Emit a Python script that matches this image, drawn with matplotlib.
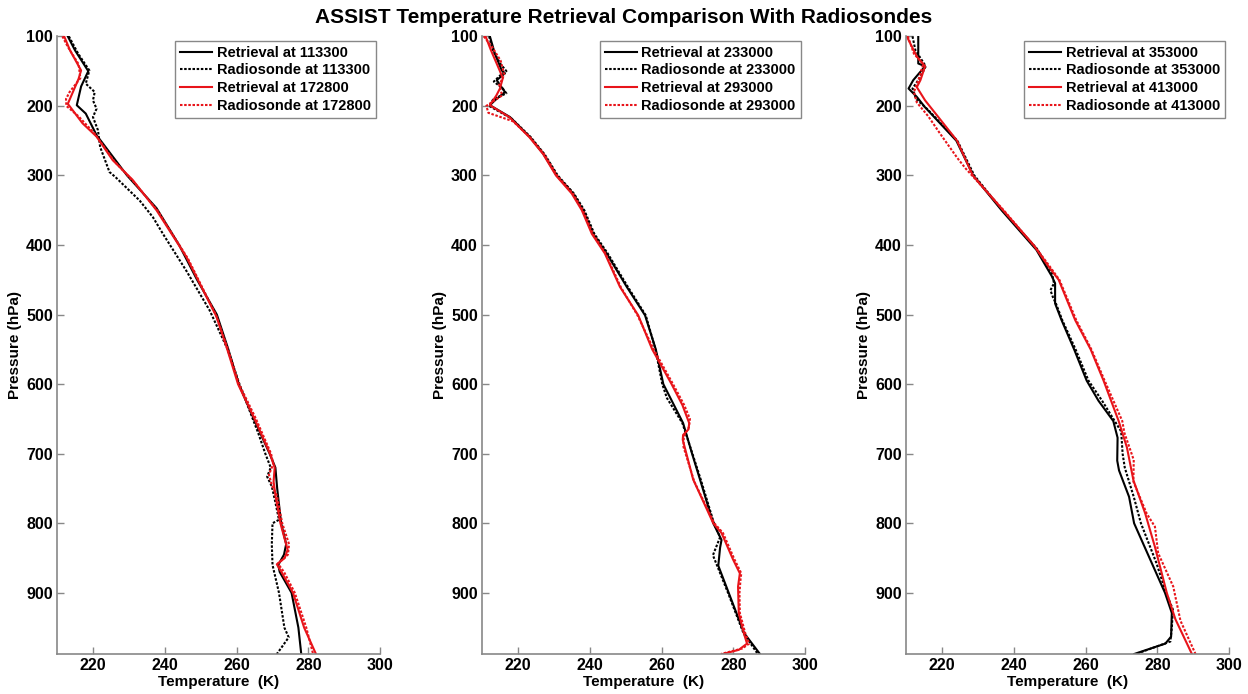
import matplotlib
matplotlib.use('Agg')
import matplotlib.pyplot as plt

plt.rcParams['font.family'] = ['Liberation Sans', 'DejaVu Sans']
plt.rcParams['font.weight'] = 'bold'

# Panel 1: retrieval / radiosonde at 113300 (black) and 172800 (red)
p1_ret_a = [100, 120, 150, 172, 199, 211, 242, 300, 347, 400, 450, 500, 550, 600, 650, 700, 720, 750, 800, 830, 845, 860, 870, 900, 950, 988]
t1_ret_a = [213, 215, 218.7, 216.7, 215.5, 218, 221, 229.5, 237.7, 244, 249, 254.5, 257.7, 260.6, 264.8, 269.2, 270.8, 271.3, 272.4, 273.8, 273.2, 271.6, 272, 275.3, 277.2, 278]
p1_son_a = [100, 125, 149, 168, 180, 192, 204, 216, 235, 259, 295, 302, 336, 360, 384, 437, 494, 550, 600, 650, 670, 700, 720, 733, 747, 770, 795, 800, 830, 860, 900, 950, 964, 975, 988]
t1_son_a = [213.3, 215.9, 219, 218, 220.5, 220, 221, 220, 221.4, 222, 224.6, 226.2, 233, 236.7, 239.5, 246, 252.5, 257.5, 260.8, 264.5, 266, 268, 269.5, 268.5, 269.8, 270.8, 271.8, 270, 269.8, 270, 271.8, 273.3, 274.5, 273, 271.2]
p1_ret_b = [100, 120, 149, 161, 185, 197, 201, 225, 244, 278, 306, 350, 417, 503, 550, 600, 650, 700, 720, 740, 760, 800, 838, 850, 859, 870, 900, 950, 988]
t1_ret_b = [212, 213.6, 216.7, 216, 214, 213, 213.6, 217.1, 221, 225.5, 231, 237.7, 246, 254.4, 257.4, 260.4, 265, 269.3, 270.6, 270.3, 270.8, 272.2, 274.2, 273.4, 271.2, 272.5, 275.7, 278.8, 282.1]
p1_son_b = [100, 115, 140, 160, 180, 190, 200, 215, 240, 280, 310, 352, 420, 500, 550, 600, 650, 700, 715, 730, 745, 760, 800, 830, 845, 858, 870, 900, 950, 988]
t1_son_b = [211.5, 213, 216, 216.5, 213.5, 212.5, 212.6, 216, 220.5, 226, 231.5, 238.2, 246.5, 254.2, 257.6, 260.7, 265.4, 269.6, 270.2, 269, 269.8, 271.2, 272.7, 274.6, 274.3, 271.5, 273.2, 276.2, 279.4, 281.3]

# Panel 2: 233000 (black) and 293000 (red)
p2_ret_a = [100, 125, 149, 153, 163, 180, 192, 199, 216, 245, 269, 300, 326, 350, 384, 412, 460, 501, 550, 600, 656, 700, 737, 800, 824, 835, 861, 900, 958, 988]
t2_ret_a = [212.2, 213.6, 215.5, 216.4, 214.1, 216.4, 213.6, 212.2, 217.8, 223.4, 227.1, 230.8, 235.4, 238.2, 241, 244.7, 250.3, 255.4, 258.4, 260.5, 266, 268.5, 270.7, 274.4, 276.7, 276.3, 275.8, 278.7, 283, 287.4]
p2_son_a = [100, 120, 140, 150, 155, 165, 175, 182, 190, 200, 218, 245, 270, 300, 326, 350, 384, 412, 460, 501, 550, 600, 620, 656, 700, 737, 800, 820, 846, 860, 900, 958, 988]
t2_son_a = [212, 213, 215.2, 216.8, 215.3, 213.3, 215.8, 216.8, 213.2, 212, 218.2, 223.6, 227.5, 231.1, 235.6, 238.5, 241.3, 245, 250.6, 255.6, 258.3, 260.2, 261.5, 265.8, 268.6, 270.9, 274.6, 276.3, 274.3, 275.4, 278.5, 282.8, 286.8]
p2_ret_b = [100, 120, 150, 160, 175, 185, 199, 216, 245, 269, 300, 326, 350, 384, 412, 460, 501, 550, 600, 630, 656, 665, 673, 680, 737, 800, 814, 852, 872, 891, 929, 958, 973, 982, 988]
t2_ret_b = [211, 212.5, 215, 215.8, 215, 214, 212.2, 217.6, 223.2, 227, 230.6, 235, 237.8, 240.6, 244.2, 248.4, 253.5, 257.4, 262.8, 265.8, 267.7, 267.5, 266, 265.9, 268.8, 274.4, 276.7, 279.9, 281.8, 281.3, 281.5, 282.9, 283.8, 281.5, 277]
p2_son_b = [100, 115, 135, 155, 170, 185, 200, 210, 222, 245, 270, 300, 326, 350, 384, 412, 460, 501, 550, 600, 630, 650, 662, 675, 690, 740, 800, 814, 852, 872, 880, 900, 929, 958, 973, 980, 988]
t2_son_b = [210.5, 212.8, 215.2, 216.2, 214.8, 215.6, 211.2, 211.8, 218.6, 223.4, 227.4, 230.9, 235.3, 238.1, 240.9, 244.4, 248.6, 253.3, 257.8, 263.2, 266.3, 267.9, 267.6, 266.2, 266.1, 269.1, 274.7, 277.1, 280.3, 282.2, 282, 281.7, 281.8, 283.3, 284.4, 282.5, 276.5]

# Panel 3: 353000 (black) and 413000 (red)
p3_ret_a = [100, 139, 143, 163, 175, 187, 202, 250, 300, 350, 407, 445, 455, 484, 508, 550, 595, 624, 653, 677, 710, 724, 762, 800, 857, 900, 929, 963, 973, 988]
t3_ret_a = [213.4, 213.4, 215.3, 212, 210.7, 213, 215.3, 224, 228.7, 236.6, 246.3, 250.6, 251.5, 251.5, 253.3, 256.8, 260.3, 263.6, 267.7, 268.9, 268.8, 269.3, 272.1, 273.5, 278.4, 282.1, 284, 283.8, 282.2, 273.5]
p3_son_a = [100, 120, 143, 160, 175, 190, 205, 250, 300, 350, 405, 440, 455, 465, 475, 485, 508, 550, 595, 624, 668, 700, 720, 762, 800, 857, 900, 924, 950, 970, 988]
t3_son_a = [211.8, 212.6, 215.5, 213.8, 211.8, 212.8, 216, 224.3, 229, 236.8, 246.4, 250.6, 251.2, 250.2, 250.9, 251.8, 253.5, 257.2, 260.8, 264.6, 269.9, 270.3, 270.9, 273.4, 275.4, 279.7, 282.4, 284.3, 284, 283.6, 274]
p3_ret_b = [100, 129, 143, 163, 173, 192, 220, 250, 300, 350, 400, 431, 450, 508, 550, 595, 653, 691, 738, 786, 834, 900, 938, 988]
t3_ret_b = [210.2, 213, 215.3, 214, 213, 215.3, 219.6, 224.2, 228.6, 237, 245.5, 249.7, 252.5, 257.1, 261.4, 265, 269.2, 271.5, 273.3, 276.6, 279.3, 282.6, 285, 289.6]
p3_son_b = [100, 125, 140, 160, 180, 195, 215, 240, 275, 290, 350, 405, 430, 450, 508, 550, 595, 653, 670, 709, 740, 786, 805, 843, 891, 940, 988]
t3_son_b = [210.5, 212.2, 214.8, 213.6, 212.2, 213, 216.2, 219.5, 224.3, 226.6, 237.2, 246.3, 249.9, 252.7, 257.4, 261.6, 265.3, 270.2, 270.8, 273.4, 273.3, 277, 279.3, 280.2, 284.4, 286.4, 290.6]

times = [('113300', '172800'), ('233000', '293000'), ('353000', '413000')]
panels = [
    (p1_ret_a, t1_ret_a, p1_son_a, t1_son_a, p1_ret_b, t1_ret_b, p1_son_b, t1_son_b),
    (p2_ret_a, t2_ret_a, p2_son_a, t2_son_a, p2_ret_b, t2_ret_b, p2_son_b, t2_son_b),
    (p3_ret_a, t3_ret_a, p3_son_a, t3_son_a, p3_ret_b, t3_ret_b, p3_son_b, t3_son_b),
]
xticks = [220, 240, 260, 280, 300]
yticks = [100, 200, 300, 400, 500, 600, 700, 800, 900]

fig = plt.figure(figsize=(12.48, 6.94), dpi=100)
lefts = [0.0457, 0.3862, 0.7260]
dot = (0, (1.2, 0.8))
red = '#e8141a'

for left, data, (ta, tb) in zip(lefts, panels, times):
    ax = fig.add_axes([left, 0.0576, 0.259, 0.890])
    pa, ta_, psa, tsa, pb, tb_, psb, tsb = data
    ax.plot(ta_, pa, color='black', lw=1.5, label='Retrieval at ' + ta)
    ax.plot(tsa, psa, color='black', lw=1.5, ls=dot, label='Radiosonde at ' + ta)
    ax.plot(tb_, pb, color=red, lw=1.5, label='Retrieval at ' + tb)
    ax.plot(tsb, psb, color=red, lw=1.5, ls=dot, label='Radiosonde at ' + tb)
    ax.set_xlim(210, 300)
    ax.set_ylim(988, 100)
    ax.set_xticks(xticks)
    ax.set_yticks(yticks)
    ax.tick_params(direction='in', length=5, width=1, color='#888888', labelsize=11.5, pad=3)
    for lab in ax.get_xticklabels() + ax.get_yticklabels():
        lab.set_fontweight('bold')
    ax.spines['top'].set_visible(False)
    ax.spines['right'].set_visible(False)
    for s in ('left', 'bottom'):
        ax.spines[s].set_color('#888888')
        ax.spines[s].set_linewidth(1.2)
    ax.set_xlabel('Temperature  (K)', fontsize=11, fontweight='bold', labelpad=1)
    ax.set_ylabel('Pressure (hPa)', fontsize=11, fontweight='bold', labelpad=3)
    leg = ax.legend(loc='upper right', fontsize=10.5, frameon=True, fancybox=False,
                    framealpha=1, edgecolor='#888888', handlelength=2.2,
                    labelspacing=0.25, borderpad=0.35, handletextpad=0.3,
                    borderaxespad=0.3)
    leg.get_frame().set_linewidth(1)
    for txt in leg.get_texts():
        txt.set_fontweight('bold')

fig.suptitle('ASSIST Temperature Retrieval Comparison With Radiosondes',
             fontsize=15, fontweight='bold', y=0.988)

fig.savefig('out.png', dpi=100)
